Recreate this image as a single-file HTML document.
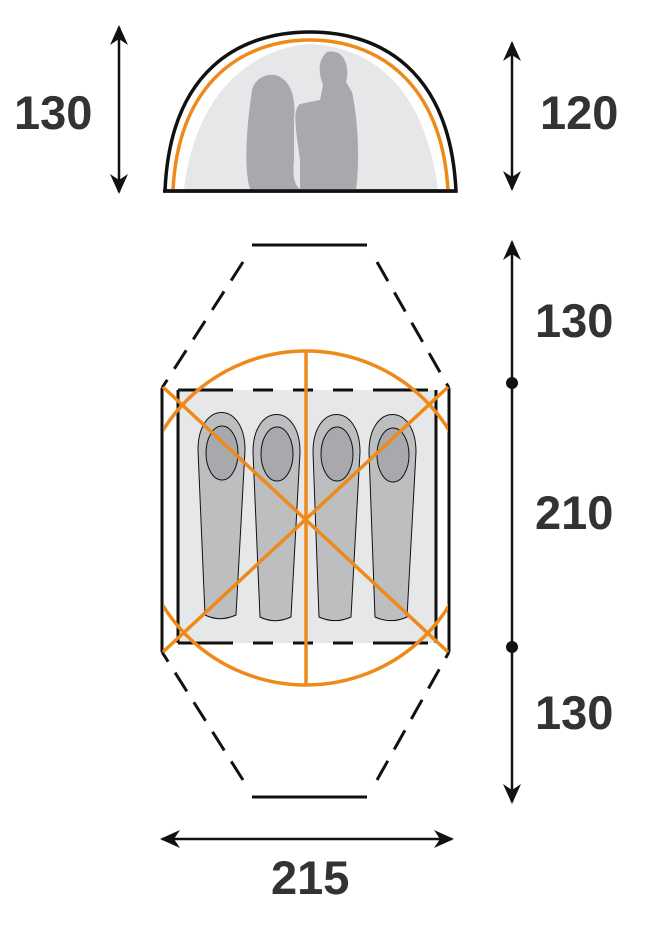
<!DOCTYPE html>
<html><head><style>body{margin:0;background:#fff}svg{display:block}text{font-family:"Liberation Sans",sans-serif;font-weight:bold;font-size:47px;fill:#333}</style></head><body>
<svg width="648" height="929" viewBox="0 0 648 929">
<defs>
<marker id="a" markerWidth="20" markerHeight="20" refX="18" refY="10" orient="auto-start-reverse" markerUnits="userSpaceOnUse" viewBox="0 0 20 20"><path d="M0,1 L20,10 L0,19 L6,10z" fill="#111"/></marker>
<clipPath id="c"><rect x="164" y="300" width="284" height="400"/></clipPath>
</defs>
<!-- dome -->
<path d="M165,191 C170,70 240,32 310,32 C380,32 450,70 456,191 Z" fill="#fff" stroke="#111" stroke-width="3.5"/>
<path d="M173,191 C178,80 245,40 310,40 C375,40 442,80 448,191" fill="none" stroke="#ee8a1a" stroke-width="3.5"/>
<path d="M184,189 C195,95 250,48 310,44 C380,48 425,95 438,189 Z" fill="#e6e7e8"/>
<g fill="#a7a9ac">
<path d="M252,90 C255,78 268,72 278,76 C292,82 296,100 294,120 L294,160 C292,180 296,186 300,189 L250,189 C244,170 246,130 252,90Z"/>
<path d="M327,52 C345,48 350,68 346,82 L352,92 C358,120 360,160 356,190 L300,190 L300,160 C296,130 292,110 300,104 L320,100 L323,85 C318,72 318,60 327,52Z"/>
</g>
<line x1="163" y1="191" x2="457" y2="191" stroke="#111" stroke-width="3.5"/>
<!-- dims -->
<line x1="119" y1="27" x2="119" y2="192" stroke="#111" stroke-width="2.5" marker-start="url(#a)" marker-end="url(#a)"/>
<line x1="512" y1="43" x2="512" y2="189" stroke="#111" stroke-width="2.5" marker-start="url(#a)" marker-end="url(#a)"/>
<line x1="512" y1="242" x2="512" y2="802" stroke="#111" stroke-width="2.5" marker-start="url(#a)" marker-end="url(#a)"/>
<circle cx="512" cy="383" r="6" fill="#111"/><circle cx="512" cy="647" r="6" fill="#111"/>
<line x1="162" y1="839" x2="452" y2="839" stroke="#111" stroke-width="2.5" marker-start="url(#a)" marker-end="url(#a)"/>
<text x="14" y="129">130</text>
<text x="540" y="129">120</text>
<text x="535" y="337">130</text>
<text x="535" y="529">210</text>
<text x="535" y="729">130</text>
<text x="271" y="894">215</text>
<!-- hexagon -->
<g stroke="#111" stroke-width="3" fill="none">
<line x1="252" y1="245" x2="367" y2="245"/><line x1="252" y1="797" x2="367" y2="797"/>
<g stroke-dasharray="22,13">
<line x1="243" y1="262" x2="162" y2="388"/><line x1="377" y1="262" x2="449" y2="388"/>
<line x1="243" y1="780" x2="162" y2="652"/><line x1="377" y1="780" x2="449" y2="652"/>
</g>
<line x1="162" y1="388" x2="162" y2="652"/><line x1="449" y1="388" x2="449" y2="652"/>
</g>
<rect x="178" y="390" width="258" height="253" fill="#e6e7e8"/>
<g stroke="#111" stroke-width="3" stroke-dasharray="55,20,20,20,20,20,20,20,55"><line x1="178" y1="390" x2="436" y2="390"/><line x1="178" y1="643" x2="436" y2="643"/></g>
<g stroke="#111" stroke-width="3"><line x1="178" y1="390" x2="178" y2="643"/><line x1="436" y1="390" x2="436" y2="643"/></g>
<!-- bags -->
<g stroke="#111" stroke-width="1">
<g fill="#bcbec0">
<path d="M198,450 C198,400 245,400 245,450 L236,615 C225,620 215,620 205,615 Z"/>
<path d="M253,452 C253,402 300,402 300,452 L291,617 C280,622 270,622 260,617 Z"/>
<path d="M313,452 C313,402 360,402 360,452 L351,617 C340,622 330,622 319,617 Z"/>
<path d="M369,452 C369,402 416,402 416,452 L407,617 C396,622 386,622 375,617 Z"/>
</g>
<g fill="#a7a9ac">
<ellipse cx="222" cy="453" rx="16" ry="27"/><ellipse cx="277" cy="454" rx="16" ry="27"/>
<ellipse cx="337" cy="454" rx="16" ry="27"/><ellipse cx="393" cy="455" rx="16" ry="27"/>
</g></g>
<!-- orange -->
<g stroke="#ee8a1a" stroke-width="3.5" fill="none">
<ellipse cx="306" cy="518" rx="168" ry="167" clip-path="url(#c)"/>
<line x1="306" y1="351" x2="306" y2="686"/>
<line x1="163" y1="387" x2="448" y2="652"/>
<line x1="448" y1="387" x2="163" y2="652"/>
</g>
</svg>
</body></html>
